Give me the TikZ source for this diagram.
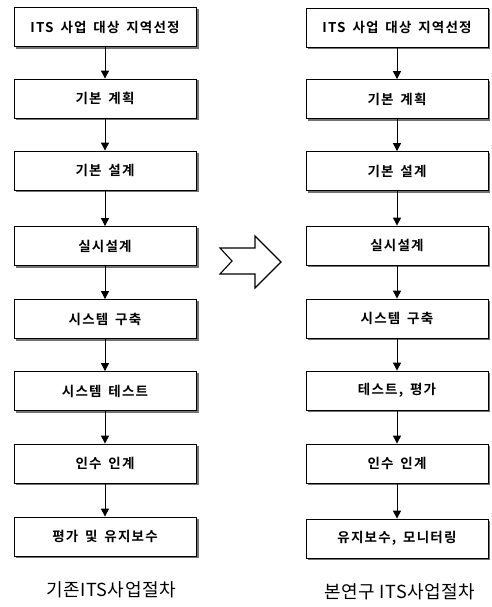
\documentclass[tikz,border=0pt]{standalone}
\usepackage{fontspec}
\setmainfont{Noto Sans CJK KR}
\newfontfamily\krbold{Noto Sans CJK KR Bold}[LetterSpace=9, WordSpace=1.6]
\newfontfamily\krcap{Noto Sans CJK KR}[LetterSpace=3]
\usetikzlibrary{arrows.meta}
\begin{document}
\begin{tikzpicture}[x=1pt,y=-1pt,
  stepbox/.style={draw=black, line width=0.8pt, fill=white, minimum width=182pt, minimum height=39pt,
     inner sep=0pt, font=\krbold\fontsize{13.5}{14}\selectfont},
  flow/.style={draw=black, line width=1pt, -{Triangle[length=8pt,width=8pt]}},
  caption/.style={font=\krcap\fontsize{18}{20}\selectfont, inner sep=0pt},
  shadowline/.style={draw=black!55, line width=2.2pt}
]
\useasboundingbox (0,0) rectangle (491,607);
\fill[white] (0,0) rectangle (491,607);
% left column
\foreach \n/\yy/\t in {l1/27/{ITS 사업 대상 지역선정}, l2/98.5/{기본 계획}, l3/170.5/{기본 설계},
  l4/246/{실시설계}, l5/319/{시스템 구축}, l6/391/{시스템 테스트}, l7/463.5/{인수 인계}, l8/536.5/{평가 및 유지보수}}{
  \draw[shadowline] (106+92,\yy-18) -- (106+92,\yy+20.5) -- (14+2,\yy+20.5);
  \node[stepbox] (\n) at (105,\yy) {\t};
}
% right column
\foreach \n/\yy/\t in {r1/27.5/{ITS 사업 대상 지역선정}, r2/99/{기본 계획}, r3/171/{기본 설계},
  r4/245.5/{실시설계}, r5/318.5/{시스템 구축}, r6/390.5/{테스트, 평가}, r7/463.5/{인수 인계}, r8/538.5/{유지보수, 모니터링}}{
  \draw[shadowline] (397+92,\yy-18) -- (397+92,\yy+20.5) -- (306+2,\yy+20.5);
  \node[stepbox] (\n) at (397,\yy) {\t};
}
\foreach \a/\b in {l1/l2,l2/l3,l3/l4,l4/l5,l5/l6,l6/l7,l7/l8,r1/r2,r2/r3,r3/r4,r4/r5,r5/r6,r6/r7,r7/r8}{
  \draw[flow] (\a.south) -- (\b.north);
}
% big transition arrow
\draw[line width=1.1pt, fill=white, line join=miter]
  (220,248) -- (255,248) -- (255,236) -- (281,262) -- (255,288) -- (255,274) -- (220,274) -- (232,261) -- cycle;
% captions
\node[caption] (capl) at (111,590) {기존ITS사업절차};
\node[caption] (capr) at (400,592) {본연구 ITS사업절차};
\end{tikzpicture}
\end{document}
